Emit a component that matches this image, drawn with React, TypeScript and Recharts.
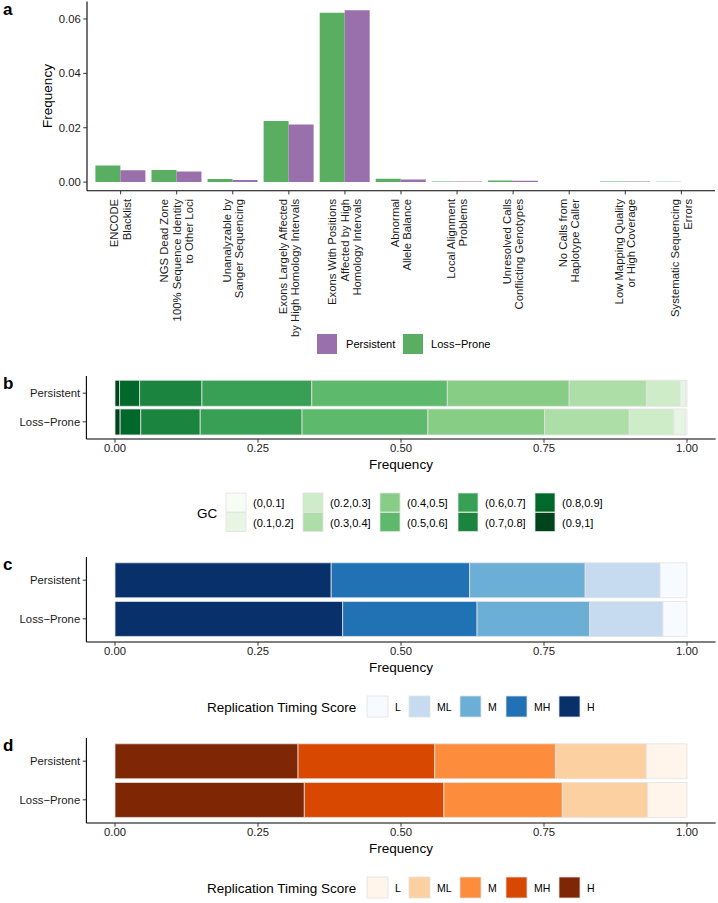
import { BarChart, Bar, XAxis, YAxis } from 'recharts'

const FONT = '"Liberation Sans", Arial, Helvetica, sans-serif'
const INK = '#1a1a1a'

// ─── Panel a: filter categories ───────────────────────────────────────────
const filterLabels = [
  'ENCODE\nBlacklist',
  'NGS Dead Zone\n100% Sequence Identity\nto Other Loci',
  'Unanalyzable by\nSanger Sequencing',
  'Exons Largely Affected\nby High Homology Intervals',
  'Exons With Positions\nAffected by High\nHomology Intervals',
  'Abnormal\nAllele Balance',
  'Local Alignment\nProblems',
  'Unresolved Calls\nConflicting Genotypes',
  'No Calls from\nHaplotype Caller',
  'Low Mapping Quality\nor High Coverage',
  'Systematic Sequencing\nErrors',
]
const lossProneFreq = [0.0061, 0.0045, 0.0011, 0.0225, 0.0623, 0.0012, 0.0002, 0.0006, 0, 0.0002, 0.0001]
const persistentFreq = [0.0044, 0.0039, 0.0008, 0.0212, 0.0632, 0.001, 0.0002, 0.0005, 0, 0.0002, 0]
const freqTicks = [0, 0.02, 0.04, 0.06]

// ─── Panels b-d: shared ───────────────────────────────────────────────────
const groups = ['Persistent', 'Loss\u2212Prone']
const fracTicks = [0, 0.25, 0.5, 0.75, 1]

// GC content bins (lowest first)
const gcBins = ['(0,0.1]', '(0.1,0.2]', '(0.2,0.3]', '(0.3,0.4]', '(0.4,0.5]', '(0.5,0.6]', '(0.6,0.7]', '(0.7,0.8]', '(0.8,0.9]', '(0.9,1]']
const gcColors = ['#F7FCF5', '#E7F6E2', '#CEECC7', '#AEDEA7', '#88CD86', '#5DB96B', '#37A055', '#1B843F', '#00682A', '#00441B']
const gcPersistent = [0.002, 0.01, 0.059, 0.135, 0.213, 0.237, 0.192, 0.109, 0.035, 0.008]
const gcLossProne = [0.003, 0.02, 0.078, 0.148, 0.204, 0.22, 0.178, 0.104, 0.036, 0.009]

// Replication timing (L -> H)
const timingLevels = ['L', 'ML', 'M', 'MH', 'H']
const timingBlues = ['#F7FBFF', '#C6DBEF', '#6BAED6', '#2171B5', '#08306B']
const timingOranges = ['#FFF5EB', '#FDD0A2', '#FD8D3C', '#D94801', '#7F2704']
const timingCPersistent = [0.047, 0.131, 0.202, 0.242, 0.378]
const timingCLossProne = [0.042, 0.128, 0.197, 0.235, 0.398]
const timingDPersistent = [0.071, 0.159, 0.211, 0.239, 0.32]
const timingDLossProne = [0.069, 0.149, 0.207, 0.244, 0.331]

const filterData = filterLabels.map((label, i) => ({
  label,
  lossProne: lossProneFreq[i],
  persistent: persistentFreq[i],
}))

function stackRows(levels: string[], persistent: number[], lossProne: number[]) {
  return groups.map((group, g) => {
    const row: Record<string, number | string> = { group }
    levels.forEach((lv, i) => {
      row[lv] = g === 0 ? persistent[i] : lossProne[i]
    })
    return row
  })
}

const tickStyle = { fontSize: 11.3, fill: INK, fontFamily: FONT }

// ─── Rotated multi-line category tick ─────────────────────────────────────
function RotatedTick({ x, y, payload }: any) {
  const lines = String(payload.value).split('\n')
  const fs = 11.3
  const lh = 12.4
  return (
    <g transform={`translate(${x},${y})`}>
      <text transform="rotate(-90)" textAnchor="end" fontSize={fs} fill={INK} fontFamily={FONT}>
        {lines.map((ln, i) => (
          <tspan key={i} x={0} y={(i - (lines.length - 1) / 2) * lh + fs * 0.35}>
            {ln}
          </tspan>
        ))}
      </text>
    </g>
  )
}

// ─── Horizontal stacked panel ─────────────────────────────────────────────
interface StackPanelProps {
  top: number
  plotTop: number
  plotHeight: number
  levels: string[]
  colors: string[]
  persistent: number[]
  lossProne: number[]
}

function StackPanel({ top, plotTop, plotHeight, levels, colors, persistent, lossProne }: StackPanelProps) {
  const height = plotHeight + 40
  const unit = plotHeight / 2.2
  const pad = unit * 0.1
  const data = stackRows(levels, persistent, lossProne)
  // darkest level sits at the left, so stack from the last level down
  const order = levels.map((_, i) => levels.length - 1 - i)
  return (
    <div style={{ position: 'absolute', left: 0, top: plotTop - top }}>
      <BarChart
        width={718}
        height={height}
        data={data}
        layout="vertical"
        margin={{ top: top, right: 2.4, left: 0, bottom: 0 }}
        barCategoryGap="5%"
      >
        <XAxis
          type="number"
          domain={[-0.05, 1.05]}
          ticks={fracTicks}
          allowDataOverflow
          tickFormatter={(v: number) => v.toFixed(2)}
          height={height - top - plotHeight}
          axisLine={{ stroke: '#000', strokeWidth: 1.1 }}
          tickLine={{ stroke: '#333' }}
          tickSize={3.7}
          tickMargin={1.5}
          tick={tickStyle}
        />
        <YAxis
          type="category"
          dataKey="group"
          width={86.4}
          padding={{ top: pad, bottom: pad }}
          axisLine={{ stroke: '#000', strokeWidth: 1.1 }}
          tickLine={{ stroke: '#333' }}
          tickSize={3.7}
          tickMargin={2.5}
          tick={tickStyle}
        />
        {order.map((i) => (
          <Bar
            key={levels[i]}
            dataKey={levels[i]}
            stackId="s"
            fill={colors[i]}
            stroke="#E2E2E2"
            strokeWidth={0.8}
            isAnimationActive={false}
          />
        ))}
      </BarChart>
    </div>
  )
}

// ─── Overlay: panel letters, titles, legends ──────────────────────────────
function Overlay() {
  const letter = { fontSize: 17, fontWeight: 700, fontFamily: FONT, fill: '#000' }
  const title = { fontSize: 13.5, fontFamily: FONT, fill: '#000' }
  const small = { fontSize: 11.1, fontFamily: FONT, fill: '#000' }
  const keyText = { fontSize: 10.5, fontFamily: FONT, fill: '#000' }
  const gcCols = [226, 303, 380, 458, 535]
  const timingBoxX = [367, 409, 460, 506, 559]
  return (
    <svg width={718} height={903} style={{ position: 'absolute', left: 0, top: 0, pointerEvents: 'none' }}>
      {/* panel a */}
      <text x={3} y={9} dominantBaseline="central" {...letter}>a</text>
      <text x={47} y={96} transform="rotate(-90, 47, 96)" textAnchor="middle" dominantBaseline="central" {...title}>
        Frequency
      </text>
      <rect x={317} y={334} width={20} height={20} fill="#9970AB" />
      <text x={346} y={344} dominantBaseline="central" {...small}>Persistent</text>
      <rect x={403} y={334} width={20} height={20} fill="#5AAE61" />
      <text x={431} y={344} dominantBaseline="central" {...small}>{groups[1]}</text>

      {/* panel b */}
      <text x={3} y={383} dominantBaseline="central" {...letter}>b</text>
      <text x={401} y={464} textAnchor="middle" dominantBaseline="central" {...title}>Frequency</text>
      <text x={207} y={513} textAnchor="middle" dominantBaseline="central" {...title}>GC</text>
      {gcBins.map((bin, i) => {
        const col = Math.floor(i / 2)
        const row = i % 2
        const y = 493 + row * 19.5
        return (
          <g key={bin}>
            <rect x={gcCols[col]} y={y} width={20} height={19} fill={gcColors[i]} stroke="#E2E2E2" strokeWidth={0.8} />
            <text x={gcCols[col] + 27} y={y + 10} dominantBaseline="central" {...small}>{bin}</text>
          </g>
        )
      })}

      {/* panel c */}
      <text x={3} y={564} dominantBaseline="central" {...letter}>c</text>
      <text x={401} y={667} textAnchor="middle" dominantBaseline="central" {...title}>Frequency</text>
      <text x={207} y={707} dominantBaseline="central" {...title}>Replication Timing Score</text>
      {timingLevels.map((lv, i) => (
        <g key={'c' + lv}>
          <rect x={timingBoxX[i]} y={696} width={21} height={21} fill={timingBlues[i]} stroke="#E2E2E2" strokeWidth={0.8} />
          <text x={timingBoxX[i] + 28} y={707} dominantBaseline="central" {...keyText}>{lv}</text>
        </g>
      ))}

      {/* panel d */}
      <text x={3} y={745} dominantBaseline="central" {...letter}>d</text>
      <text x={401} y={848} textAnchor="middle" dominantBaseline="central" {...title}>Frequency</text>
      <text x={207} y={888} dominantBaseline="central" {...title}>Replication Timing Score</text>
      {timingLevels.map((lv, i) => (
        <g key={'d' + lv}>
          <rect x={timingBoxX[i]} y={877} width={21} height={21} fill={timingOranges[i]} stroke="#E2E2E2" strokeWidth={0.8} />
          <text x={timingBoxX[i] + 28} y={888} dominantBaseline="central" {...keyText}>{lv}</text>
        </g>
      ))}
    </svg>
  )
}

export default function App() {
  const aHeight = 345
  const aTop = 1.6
  const aPlot = 189.1
  return (
    <div style={{ position: 'relative', width: 718, height: 903, background: '#fff', overflow: 'hidden', fontFamily: FONT }}>
      <style>{'body{margin:0}'}</style>

      {/* Panel a */}
      <div style={{ position: 'absolute', left: 0, top: 0 }}>
        <BarChart
          width={718}
          height={aHeight}
          data={filterData}
          margin={{ top: aTop, right: 3, left: 0, bottom: 0 }}
          barCategoryGap="5%"
          barGap={0}
        >
          <XAxis
            dataKey="label"
            interval={0}
            height={aHeight - aTop - aPlot}
            padding={{ left: 5.6, right: 5.6 }}
            axisLine={{ stroke: '#000', strokeWidth: 1.1 }}
            tickLine={{ stroke: '#333' }}
            tickSize={3.7}
            tickMargin={4.5}
            tick={(p: any) => <RotatedTick {...p} />}
          />
          <YAxis
            width={87}
            domain={[-0.00316, 0.0664]}
            ticks={freqTicks}
            allowDataOverflow
            tickFormatter={(v: number) => v.toFixed(2)}
            axisLine={{ stroke: '#000', strokeWidth: 1.1 }}
            tickLine={{ stroke: '#333' }}
            tickSize={3.7}
            tickMargin={2.5}
            tick={tickStyle}
          />
          <Bar dataKey="lossProne" fill="#5AAE61" isAnimationActive={false} />
          <Bar dataKey="persistent" fill="#9970AB" isAnimationActive={false} />
        </BarChart>
      </div>

      <StackPanel top={6} plotTop={376} plotHeight={63} levels={gcBins} colors={gcColors} persistent={gcPersistent} lossProne={gcLossProne} />
      <StackPanel top={6} plotTop={557} plotHeight={85} levels={timingLevels} colors={timingBlues} persistent={timingCPersistent} lossProne={timingCLossProne} />
      <StackPanel top={6} plotTop={738} plotHeight={85} levels={timingLevels} colors={timingOranges} persistent={timingDPersistent} lossProne={timingDLossProne} />

      <Overlay />
    </div>
  )
}
